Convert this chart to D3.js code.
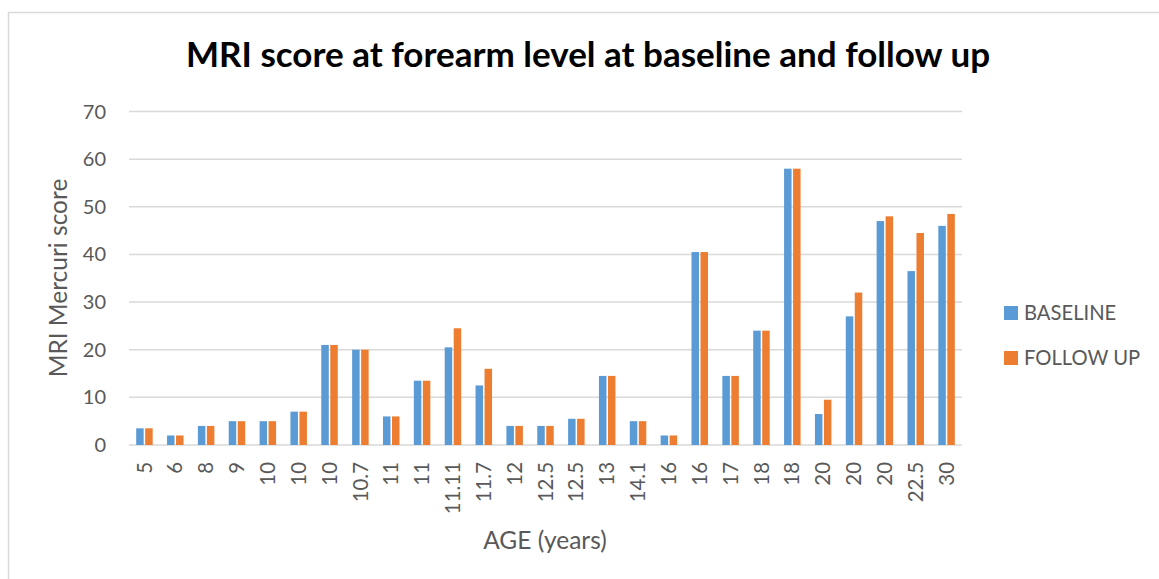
<!DOCTYPE html>
<html>
<head>
<meta charset="utf-8">
<script src="https://cdn.jsdelivr.net/npm/d3@7"></script>
<style>
  body { margin: 0; background: #fff; }
  svg { display: block; font-family: Lato, "Open Sans", sans-serif; }
</style>
</head>
<body>
<svg id="chart" width="1159" height="579"></svg>
<script>
// ages on the x axis (duplicates are separate patients)
var ages = ["5", "6", "8", "9", "10", "10", "10", "10.7", "11", "11", "11.11", "11.7", "12", "12.5", "12.5",
            "13", "14.1", "16", "16", "17", "18", "18", "20", "20", "20", "22.5", "30"];
var baseline = [3.5, 2, 4, 5, 5, 7, 21, 20, 6, 13.5, 20.5, 12.5, 4, 4, 5.5,
                14.5, 5, 2, 40.5, 14.5, 24, 58, 6.5, 27, 47, 36.5, 46];
var followUp = [3.5, 2, 4, 5, 5, 7, 21, 20, 6, 13.5, 24.5, 16, 4, 4, 5.5,
                14.5, 5, 2, 40.5, 14.5, 24, 58, 9.5, 32, 48, 44.5, 48.5];
var seriesNames = ["BASELINE", "FOLLOW UP"];
var colors = ["#5B9BD5", "#ED7D31"];
var yTicks = [0, 10, 20, 30, 40, 50, 60, 70];

var svg = d3.select("#chart");
var plotLeft = 129, plotRight = 962, plotTop = 111.5, plotBottom = 445;

// chart frame
svg.append("rect")
  .attr("x", 8.5).attr("y", 12.5)
  .attr("width", 1200).attr("height", 700)
  .attr("fill", "none").attr("stroke", "#d9d9d9").attr("stroke-width", 1.5);

var x = d3.scaleBand().domain(d3.range(ages.length)).range([plotLeft, plotRight]);
var y = d3.scaleLinear().domain([0, 70]).range([plotBottom, plotTop]);

// gridlines
svg.append("g").selectAll("line").data(yTicks).enter().append("line")
  .attr("x1", plotLeft).attr("x2", plotRight)
  .attr("y1", function(d) { return y(d); }).attr("y2", function(d) { return y(d); })
  .attr("stroke", "#d9d9d9").attr("stroke-width", 1.5);

// y tick labels
svg.append("g").selectAll("text").data(yTicks).enter().append("text")
  .attr("x", 106).attr("y", function(d) { return y(d); })
  .attr("dy", "0.35em").attr("text-anchor", "end")
  .attr("font-size", 20).attr("fill", "#595959")
  .text(function(d) { return d; });

// bars
var barW = 7.5, gap = 1.5;
var series = [baseline, followUp];
series.forEach(function(vals, s) {
  svg.append("g").selectAll("rect").data(vals).enter().append("rect")
    .attr("x", function(d, i) {
      var c = x(i) + x.bandwidth() / 2;
      return s === 0 ? c - gap / 2 - barW : c + gap / 2;
    })
    .attr("y", function(d) { return y(d); })
    .attr("width", barW)
    .attr("height", function(d) { return y(0) - y(d); })
    .attr("fill", colors[s]);
});

// x tick labels (rotated)
svg.append("g").selectAll("text").data(ages).enter().append("text")
  .attr("transform", function(d, i) {
    return "translate(" + (x(i) + x.bandwidth() / 2) + ",462) rotate(-90)";
  })
  .attr("dy", "0.35em").attr("text-anchor", "end")
  .attr("font-size", 20.4).attr("fill", "#595959")
  .text(function(d) { return d; });

// title
svg.append("text")
  .attr("x", 588).attr("y", 67).attr("text-anchor", "middle")
  .attr("font-size", 35).attr("font-weight", "bold").attr("fill", "#000")
  .text("MRI score at forearm level at baseline and follow up");

// axis titles
svg.append("text")
  .attr("transform", "translate(67,278) rotate(-90)")
  .attr("text-anchor", "middle")
  .attr("font-size", 24.5).attr("fill", "#595959")
  .text("MRI Mercuri score");

svg.append("text")
  .attr("x", 545).attr("y", 549).attr("text-anchor", "middle")
  .attr("font-size", 24.5).attr("fill", "#595959")
  .text("AGE (years)");

// legend
var legend = svg.append("g").selectAll("g").data(seriesNames).enter().append("g")
  .attr("transform", function(d, i) { return "translate(1004," + (306 + i * 45) + ")"; });
legend.append("rect").attr("width", 14).attr("height", 14)
  .attr("fill", function(d, i) { return colors[i]; });
legend.append("text").attr("x", 20).attr("y", 14)
  .attr("font-size", 20.2).attr("fill", "#595959")
  .text(function(d) { return d; });
</script>
</body>
</html>
